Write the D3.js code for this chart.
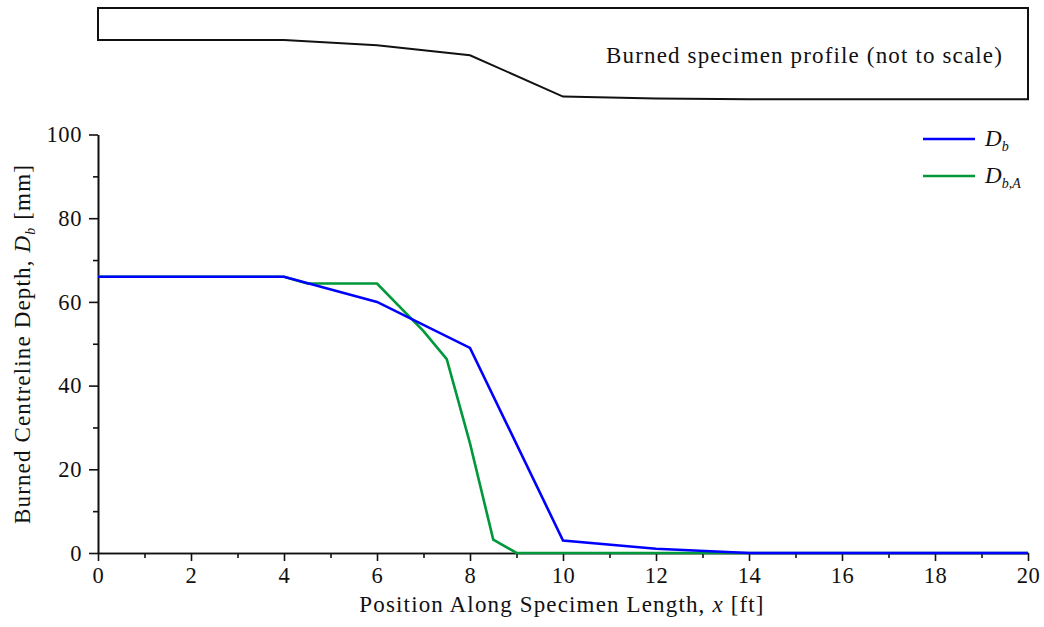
<!DOCTYPE html>
<html>
<head>
<meta charset="utf-8">
<script src="https://cdn.jsdelivr.net/npm/d3@7"></script>
<style>
  body { margin: 0; background: #fff; }
  svg text { font-family: "Liberation Serif", "DejaVu Serif", serif; fill: #111; }
  .axis path, .axis line { stroke: #111; stroke-width: 1.6; }
  .axis text { font-size: 22.5px; letter-spacing: 0.6px; }
  .label { font-size: 23px; letter-spacing: 1.15px; }
</style>
</head>
<body>
<svg id="chart" width="1044" height="627"></svg>
<script>
// burned depth Db, along the specimen
const dbX = [0, 4, 6, 8, 10, 12, 14, 16, 18, 20];
const dbY = [66, 66, 60, 49, 3, 1, 0, 0, 0, 0];
// burned depth Db,A
const dbaX = [0, 4, 4.5, 6, 7, 7.5, 8, 8.5, 9, 10, 12, 14, 16, 18, 20];
const dbaY = [66, 66, 64.4, 64.4, 53, 46.3, 26.2, 3.2, 0, 0, 0, 0, 0, 0, 0];

const xMajor = [0, 2, 4, 6, 8, 10, 12, 14, 16, 18, 20];
const xMinor = [1, 3, 5, 7, 9, 11, 13, 15, 17, 19];
const yMajor = [0, 20, 40, 60, 80, 100];
const yMinor = [10, 30, 50, 70, 90];

const svg = d3.select("#chart");

const x = d3.scaleLinear().domain([0, 20]).range([98, 1028]);
const y = d3.scaleLinear().domain([0, 100]).range([553, 134.5]);
// top inset: the profile, same x, squashed y
const yp = d3.scaleLinear().domain([0, 101.5]).range([99.3, 8]);

// profile outline
let prof = [[0, 101.5]];
dbX.forEach((d, i) => prof.push([d, dbY[i]]));
prof.push([20, 101.5]);
svg.append("path")
  .attr("d", d3.line().x(d => x(d[0])).y(d => yp(d[1]))(prof) + "Z")
  .attr("fill", "none")
  .attr("stroke", "#111")
  .attr("stroke-width", 2)
  .attr("stroke-linejoin", "miter");

svg.append("text")
  .attr("class", "label")
  .attr("x", 1003)
  .attr("y", 63)
  .attr("text-anchor", "end")
  .text("Burned specimen profile (not to scale)");

// axes
svg.append("g")
  .attr("class", "axis")
  .attr("transform", "translate(0," + y(0) + ")")
  .call(d3.axisBottom(x).tickValues(xMinor).tickSize(5).tickSizeOuter(0).tickFormat(""));
svg.append("g")
  .attr("class", "axis")
  .attr("transform", "translate(0," + y(0) + ")")
  .call(d3.axisBottom(x).tickValues(xMajor).tickSize(8).tickSizeOuter(0).tickPadding(5))
  .call(g => g.selectAll("text").attr("dy", "0.75em"));

svg.append("g")
  .attr("class", "axis")
  .attr("transform", "translate(" + x(0) + ",0)")
  .call(d3.axisLeft(y).tickValues(yMinor).tickSize(5).tickSizeOuter(0).tickFormat(""));
svg.append("g")
  .attr("class", "axis")
  .attr("transform", "translate(" + x(0) + ",0)")
  .call(d3.axisLeft(y).tickValues(yMajor).tickSize(9).tickSizeOuter(0).tickPadding(7));

// lines
const line = d3.line().x(d => x(d[0])).y(d => y(d[1]));
svg.append("path")
  .attr("d", line(dbaX.map((d, i) => [d, dbaY[i]])))
  .attr("fill", "none")
  .attr("stroke", "#00983a")
  .attr("stroke-width", 2.6);
svg.append("path")
  .attr("d", line(dbX.map((d, i) => [d, dbY[i]])))
  .attr("fill", "none")
  .attr("stroke", "#0000ff")
  .attr("stroke-width", 2.6);

// legend
const legend = [
  { color: "#0000ff", sub: "b", y: 139 },
  { color: "#00983a", sub: "b,A", y: 176 }
];
legend.forEach(l => {
  svg.append("line")
    .attr("x1", 923).attr("x2", 975)
    .attr("y1", l.y).attr("y2", l.y)
    .attr("stroke", l.color).attr("stroke-width", 2.6);
  const t = svg.append("text")
    .attr("x", 985).attr("y", l.y + 7)
    .style("font-size", "23px")
    .style("font-style", "italic");
  t.append("tspan").text("D");
  t.append("tspan").attr("dy", 5).style("font-size", "14px").text(l.sub);
});

// axis titles
svg.append("text")
  .attr("class", "label")
  .attr("x", 562)
  .attr("y", 612)
  .attr("text-anchor", "middle")
  .call(t => {
    t.append("tspan").text("Position Along Specimen Length, ");
    t.append("tspan").style("font-style", "italic").text("x");
    t.append("tspan").text(" [ft]");
  });

svg.append("text")
  .attr("class", "label")
  .attr("transform", "translate(29.5,344) rotate(-90)")
  .attr("text-anchor", "middle")
  .call(t => {
    t.append("tspan").text("Burned Centreline Depth, ");
    t.append("tspan").style("font-style", "italic").text("D");
    t.append("tspan").attr("dy", 5).style("font-size", "14px").style("font-style", "italic").text("b");
    t.append("tspan").attr("dy", -5).text(" [mm]");
  });
</script>
</body>
</html>
